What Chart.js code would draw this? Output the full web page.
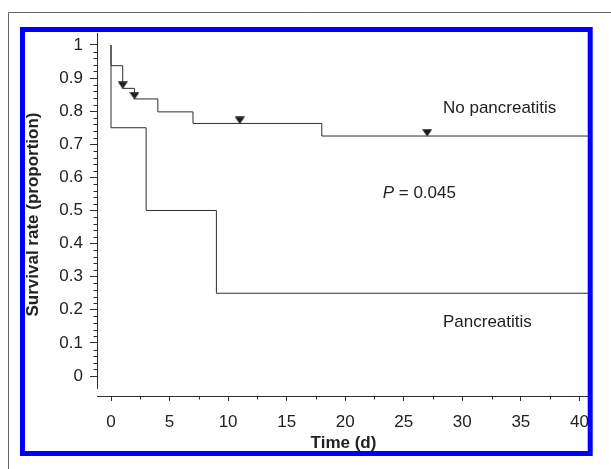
<!DOCTYPE html>
<html>
<head>
<meta charset="utf-8">
<script src="https://cdn.jsdelivr.net/npm/chart.js@4.4.1/dist/chart.umd.min.js"></script>
<style>
  html, body { margin: 0; padding: 0; background: #fff; }
  #km { display: block; }
</style>
</head>
<body>
<canvas id="km" width="611" height="469"></canvas>
<script>
/* =========================
   Data
========================= */
const noPancTimes = [0, 0, 1, 2, 4, 7, 18, 40.9];
const noPancSurv  = [1, 0.9375, 0.869, 0.837, 0.798, 0.763, 0.725, 0.725];

const pancTimes = [0, 0, 3, 9, 40.9];
const pancSurv  = [1, 0.75, 0.5, 0.25, 0.25];

// censored observations (down triangles)
const censorTimes = [1, 2, 11, 27];
const censorSurv  = [0.869, 0.837, 0.763, 0.725];

const xTicks = [0, 5, 10, 15, 20, 25, 30, 35, 40];
const yTicks = [0, 0.1, 0.2, 0.3, 0.4, 0.5, 0.6, 0.7, 0.8, 0.9, 1];

const FONT = '"Liberation Sans", Arial, sans-serif';
const INK = "#222";
const LINE = "#2e2e2e";

/* =========================
   Censor marker: apex sits on the point
========================= */
const tri = document.createElement("canvas");
tri.width = 10;
tri.height = 14;
{
  const c = tri.getContext("2d");
  c.fillStyle = "#1a1a1a";
  c.beginPath();
  c.moveTo(0, 0.3);
  c.lineTo(10, 0.3);
  c.lineTo(5, 7.4);
  c.closePath();
  c.fill();
}

const toPts = (xs, ys) => xs.map((x, i) => ({ x, y: ys[i] }));

/* =========================
   Decorations: frames, axis line, minor ticks, labels
========================= */
const decor = {
  id: "decor",
  beforeDraw(chart) {
    const ctx = chart.ctx;
    ctx.save();
    ctx.fillStyle = "#fff";
    ctx.fillRect(0, 0, chart.width, chart.height);
    // outer grey frame
    ctx.strokeStyle = "#666";
    ctx.lineWidth = 1;
    ctx.beginPath();
    ctx.moveTo(8.5, 469);
    ctx.lineTo(8.5, 12.5);
    ctx.lineTo(611, 12.5);
    ctx.stroke();
    ctx.restore();
  },
  afterDraw(chart) {
    const ctx = chart.ctx;
    const xs = chart.scales.x, ys = chart.scales.y;
    const ax = Math.round(chart.chartArea.left) + 0.5;
    const ay = Math.round(chart.chartArea.bottom) + 0.5;
    ctx.save();
    ctx.strokeStyle = LINE;
    ctx.lineWidth = 1;

    // y axis line (stops short of the x axis)
    ctx.beginPath();
    ctx.moveTo(ax, 33);
    ctx.lineTo(ax, 389);
    ctx.stroke();

    // minor ticks
    ctx.beginPath();
    for (let i = 1; i < 50; i++) {
      if (i % 5 === 0) continue;
      const py = Math.round(ys.getPixelForValue(i / 50)) + 0.5;
      ctx.moveTo(ax - 4, py);
      ctx.lineTo(ax, py);
    }
    for (let i = 0; i < 8; i++) {
      const px = Math.round(xs.getPixelForValue(2.5 + i * 5)) + 0.5;
      ctx.moveTo(px, ay);
      ctx.lineTo(px, ay + 3);
    }
    ctx.stroke();

    // annotations
    ctx.fillStyle = INK;
    ctx.textBaseline = "middle";
    ctx.textAlign = "left";
    ctx.font = `17px ${FONT}`;
    ctx.fillText("No pancreatitis", xs.getPixelForValue(28.35), ys.getPixelForValue(0.81));
    ctx.fillText("Pancreatitis", xs.getPixelForValue(28.35), ys.getPixelForValue(0.163));

    const px = xs.getPixelForValue(23.2), py = ys.getPixelForValue(0.553);
    ctx.font = `italic 17px ${FONT}`;
    ctx.fillText("P", px, py);
    const w = ctx.measureText("P").width;
    ctx.font = `17px ${FONT}`;
    ctx.fillText(" = 0.045", px + w, py);

    // blue frame
    ctx.strokeStyle = "#0000ff";
    ctx.lineWidth = 5;
    ctx.strokeRect(22.5, 29.5, 567.7, 424);
    ctx.restore();
  }
};

/* =========================
   Chart
========================= */
const stepLine = (data) => ({
  type: "line",
  data,
  stepped: true,
  borderColor: LINE,
  borderWidth: 1,
  pointRadius: 0,
  fill: false,
  tension: 0,
});

new Chart(document.getElementById("km"), {
  type: "line",
  data: {
    datasets: [
      stepLine(toPts(noPancTimes, noPancSurv)),
      stepLine(toPts(pancTimes, pancSurv)),
      {
        type: "scatter",
        data: toPts(censorTimes, censorSurv),
        pointStyle: tri,
        pointRadius: 5,
        showLine: false,
      },
    ],
  },
  options: {
    responsive: false,
    animation: false,
    devicePixelRatio: 1,
    layout: { padding: { top: 33, right: 21, left: 0, bottom: 0 } },
    plugins: { legend: { display: false }, tooltip: { enabled: false } },
    scales: {
      x: {
        type: "linear",
        position: "bottom",
        min: -1.1956,
        max: 40.905,
        afterFit: (s) => { s.height = 73; },
        afterBuildTicks: (s) => { s.ticks = xTicks.map(v => ({ value: v })); },
        border: { display: true, color: LINE, width: 1 },
        grid: { drawOnChartArea: false, tickLength: 5, tickColor: LINE },
        ticks: { color: INK, font: { family: FONT, size: 17 }, padding: 11, maxRotation: 0,
                 callback: (v) => String(v) },
        title: {
          display: true,
          text: "Time (d)",
          color: INK,
          font: { family: FONT, size: 17, weight: "bold" },
          padding: { top: 0, bottom: 15 },
        },
      },
      y: {
        type: "linear",
        min: -0.06042,
        max: 1.03625,
        afterFit: (s) => { s.width = 97; },
        afterBuildTicks: (s) => { s.ticks = yTicks.map(v => ({ value: v })); },
        border: { display: false },
        grid: { drawOnChartArea: false, tickLength: 7, tickColor: LINE },
        ticks: { color: INK, font: { family: FONT, size: 17 }, padding: 7,
                 callback: (v) => String(v) },
        title: {
          display: true,
          text: "Survival rate (proportion)",
          color: INK,
          font: { family: FONT, size: 17, weight: "bold" },
          padding: { top: 23, bottom: 0 },
        },
      },
    },
  },
  plugins: [decor],
});
</script>
</body>
</html>
